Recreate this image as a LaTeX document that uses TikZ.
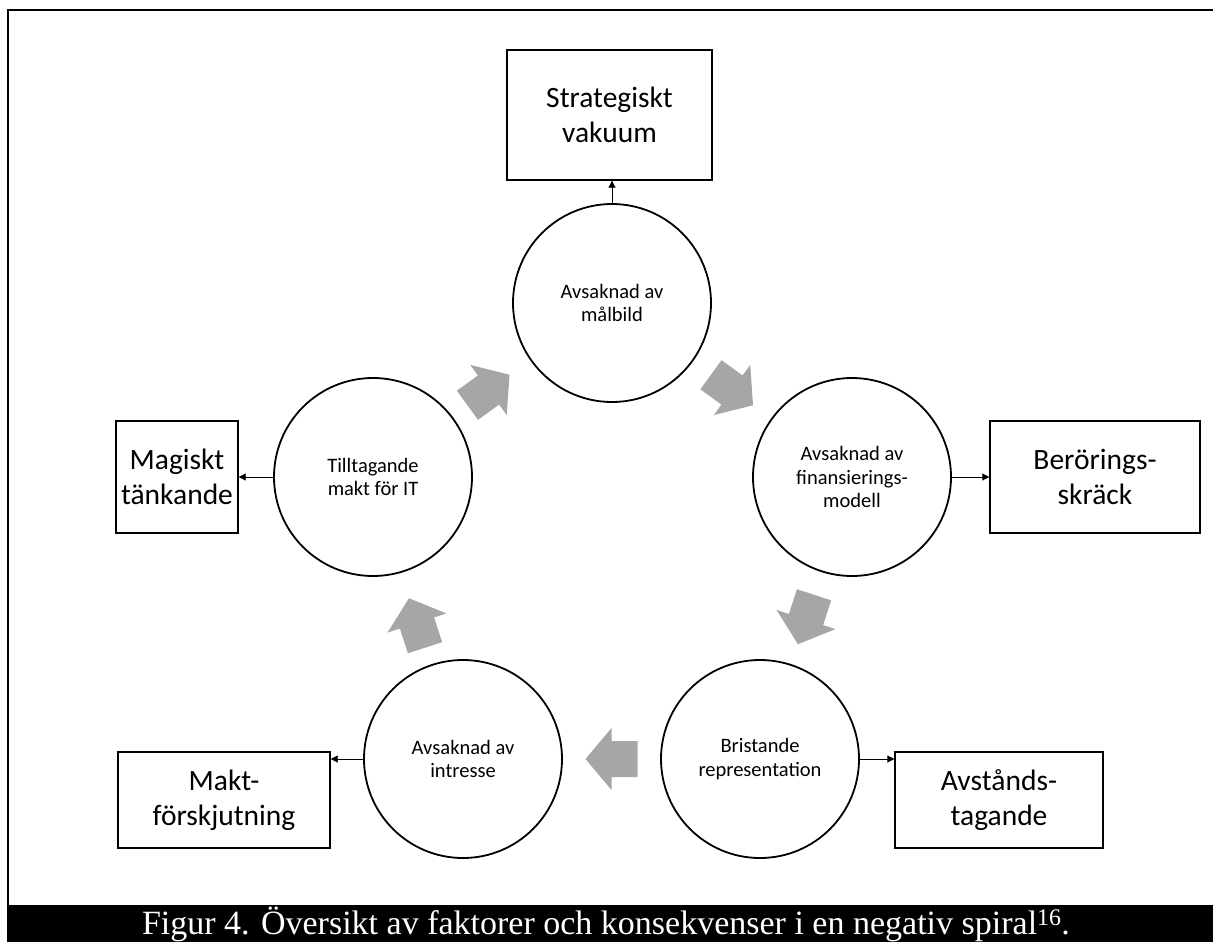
\documentclass[tikz,border=0pt]{standalone}
\usepackage{fontspec}
\setmainfont{Carlito}
\newfontfamily\capfont{Liberation Serif}
\usetikzlibrary{calc,arrows.meta}
\definecolor{arrowgray}{RGB}{166,166,166}
\begin{document}
\begin{tikzpicture}[x=1pt,y=-1pt,
  circ/.style={circle, draw, line width=1.8pt, minimum size=198pt, inner sep=0pt, align=center, font=\fontsize{20.5}{23.5}\selectfont},
  box/.style={draw, line width=1.4pt, align=center, font=\fontsize{29.5}{35}\selectfont, inner sep=0pt},
  conn/.style={line width=0.9pt, -{Triangle[length=7pt,width=7pt]}},
  blockarr/.pic={\fill[arrowgray] (-26,-18) -- (0,-18) -- (0,-31) -- (26,0) -- (0,31) -- (0,18) -- (-26,18) -- cycle;}
]
\path[use as bounding box] (0,0) rectangle (1213,942);
% frame and caption bar
\draw[line width=2pt] (8,942) -- (8,10) -- (1213,10);
\fill[black] (7,905) rectangle (1213,942);
\node[text=white, font=\capfont\fontsize{34}{36}\selectfont, inner sep=0pt, anchor=base] (cap) at (606,934.5)
  {Figur 4. Översikt av faktorer och konsekvenser i en negativ spiral\textsuperscript{16}.};

% circles
\node[circ] (ctop) at (612,303) {Avsaknad av\\målbild};
\node[circ] (cright) at (852,477) {Avsaknad av\\finansierings-\\modell};
\node[circ] (cbr) at (760,759) {Bristande\\representation};
\node[circ] (cbl) at (463,759) {Avsaknad av\\intresse};
\node[circ] (cleft) at (373,477) {Tilltagande\\makt för IT};

% boxes
\node[box, minimum width=205pt, minimum height=130pt] (btop) at (609.5,115) {Strategiskt\\vakuum};
\node[box, minimum width=122pt, minimum height=112pt] (bleft) at (177,477) {Magiskt\\tänkande};
\node[box, minimum width=210pt, minimum height=112pt] (bright) at (1095,477) {Berörings-\\skräck};
\node[box, minimum width=212pt, minimum height=96pt] (bbl) at (224,800) {Makt-\\förskjutning};
\node[box, minimum width=208pt, minimum height=96pt] (bbr) at (999,800) {Avstånds-\\tagande};

% connectors
\draw[conn] (ctop.north) -- (ctop.north |- btop.south);
\draw[conn] (cleft.west) -- (cleft.west -| bleft.east);
\draw[conn] (cright.east) -- (cright.east -| bright.west);
\draw[conn] (cbl.west) -- (cbl.west -| bbl.east);
\draw[conn] (cbr.east) -- (cbr.east -| bbr.west);

% gray block arrows of the spiral
\pic[rotate=-36] at ($(ctop)!0.5!(cright)$) {blockarr};
\pic[rotate=-108] at ($(cright)!0.5!(cbr)+(0,1.5)$) {blockarr};
\pic[rotate=180] at ($(cbr)!0.5!(cbl)$) {blockarr};
\pic[rotate=108] at ($(cbl)!0.5!(cleft)+(-1,5)$) {blockarr};
\pic[rotate=36] at ($(cleft)!0.5!(ctop)+(-4,0)$) {blockarr};
\end{tikzpicture}
\end{document}
